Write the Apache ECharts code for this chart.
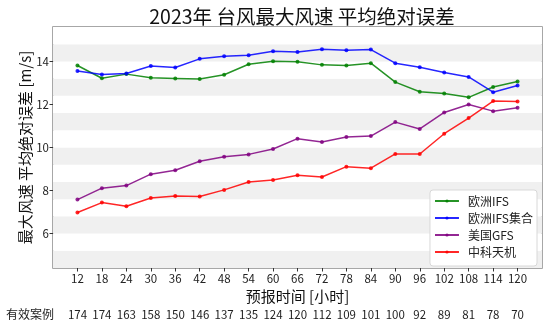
<!DOCTYPE html>
<html>
<head>
<meta charset="utf-8">
<script src="https://cdn.jsdelivr.net/npm/echarts@6/dist/echarts.min.js"></script>
<style>
  html, body { margin: 0; padding: 0; background: #fff; }
  #chart { width: 550px; height: 330px; }
</style>
</head>
<body>
<div id="chart"></div>
<script>
// Forecast lead times (hours)
const leadHours = [12, 18, 24, 30, 36, 42, 48, 54, 60, 66, 72, 78, 84, 90, 96, 102, 108, 114, 120];
// Number of valid cases at each lead time
const caseCounts = [174, 174, 163, 158, 150, 146, 137, 135, 124, 120, 112, 109, 101, 100, 92, 89, 81, 78, 70];
// Mean absolute error of max wind speed (m/s)
const ecIFS     = [13.81, 13.22, 13.41, 13.24, 13.21, 13.18, 13.38, 13.87, 14.01, 13.98, 13.84, 13.81, 13.92, 13.04, 12.59, 12.51, 12.33, 12.81, 13.07];
const ecEns     = [13.55, 13.39, 13.44, 13.79, 13.72, 14.12, 14.24, 14.29, 14.47, 14.44, 14.57, 14.52, 14.55, 13.92, 13.73, 13.49, 13.28, 12.57, 12.88];
const usGFS     = [7.58, 8.11, 8.23, 8.76, 8.94, 9.36, 9.57, 9.68, 9.93, 10.41, 10.26, 10.49, 10.53, 11.18, 10.86, 11.63, 12.00, 11.69, 11.85];
const tianji    = [6.98, 7.44, 7.27, 7.65, 7.75, 7.72, 8.03, 8.40, 8.49, 8.71, 8.63, 9.11, 9.04, 9.70, 9.70, 10.64, 11.37, 12.16, 12.14];
const yTickValues = [6, 8, 10, 12, 14];

const FONT = '"Noto Sans CJK SC", "Noto Sans", sans-serif';

function pairs(values) {
  return leadHours.map((h, i) => [h, values[i]]);
}

function lineSeries(name, values, color) {
  return {
    name: name,
    type: 'line',
    data: pairs(values),
    xAxisIndex: 0,
    yAxisIndex: 0,
    symbol: 'circle',
    symbolSize: 4,
    itemStyle: { color: color, opacity: 0.85 },
    lineStyle: { color: color, width: 1.5, opacity: 0.85 },
    emphasis: { disabled: true },
    animation: false
  };
}

const chart = echarts.init(document.getElementById('chart'), null, { renderer: 'canvas' });

chart.setOption({
  animation: false,
  backgroundColor: '#fff',
  textStyle: { fontFamily: FONT },
  title: {
    text: '2023年 台风最大风速 平均绝对误差',
    left: 297,
    top: 2,
    textAlign: 'center',
    textStyle: { fontFamily: FONT, fontSize: 19.5, fontWeight: 'normal', color: '#111' }
  },
  grid: {
    left: 53, right: 8, top: 27, bottom: 62,
    show: true,
    borderColor: '#8a8a8a',
    borderWidth: 1.5,
    backgroundColor: 'transparent'
  },
  legend: {
    orient: 'vertical',
    right: 13,
    bottom: 64,
    itemWidth: 24,
    itemHeight: 4,
    itemGap: 5,
    padding: [5, 4, 8, 4],
    backgroundColor: '#fff',
    borderColor: '#d8d8d8',
    borderWidth: 1,
    borderRadius: 3,
    textStyle: { fontFamily: FONT, fontSize: 12, color: '#222', padding: [0, 0, 0, 4] },
    data: ['欧洲IFS', '欧洲IFS集合', '美国GFS', '中科天机']
  },
  xAxis: [
    {
      type: 'value',
      min: 6, max: 126, interval: 6,
      name: '预报时间 [小时]',
      nameLocation: 'middle',
      nameGap: 21,
      nameMoveOverlap: false,
      nameTextStyle: { fontFamily: FONT, fontSize: 15, color: '#111' },
      axisLine: { show: false },
      axisTick: { show: true, customValues: leadHours, length: 3.5, lineStyle: { color: '#333', width: 1 } },
      axisLabel: { customValues: leadHours, margin: 5, fontSize: 11.5, color: '#222', fontFamily: FONT },
      splitLine: { show: false }
    },
    {
      type: 'value',
      position: 'bottom',
      offset: 36,
      min: 6, max: 126, interval: 6,
      axisLine: { show: false },
      axisTick: { show: false },
      axisLabel: {
        customValues: leadHours,
        margin: 5,
        fontSize: 11.5,
        color: '#222',
        fontFamily: FONT,
        formatter: function (v) {
          const i = leadHours.indexOf(v);
          return i >= 0 ? String(caseCounts[i]) : '';
        }
      },
      splitLine: { show: false }
    }
  ],
  yAxis: [
    {
      type: 'value',
      min: 4.4, max: 15.6,
      name: '最大风速 平均绝对误差 [m/s]',
      nameLocation: 'middle',
      nameGap: 20,
      nameMoveOverlap: false,
      nameTextStyle: { fontFamily: FONT, fontSize: 15, color: '#111' },
      axisLine: { show: false },
      axisTick: { show: true, customValues: yTickValues, length: 3.5, lineStyle: { color: '#333', width: 1 } },
      axisLabel: { customValues: yTickValues, margin: 4, fontSize: 11.5, color: '#222', fontFamily: FONT },
      splitLine: { show: false },
      splitArea: { show: false }
    },
    {
      // background bands every 0.8 m/s
      type: 'value',
      position: 'left',
      min: 4.4, max: 15.6, interval: 0.8,
      axisLine: { show: false },
      axisTick: { show: false },
      axisLabel: { show: false },
      splitLine: { show: false },
      splitArea: { show: true, areaStyle: { color: ['#f0f0f0', '#ffffff'] } }
    }
  ],
  graphic: [
    {
      type: 'text',
      left: 6,
      top: 308,
      style: { text: '有效案例', fontFamily: FONT, fontSize: 12, fill: '#222' }
    }
  ],
  series: [
    lineSeries('欧洲IFS', ecIFS, '#008000'),
    lineSeries('欧洲IFS集合', ecEns, '#0000ff'),
    lineSeries('美国GFS', usGFS, '#800080'),
    lineSeries('中科天机', tianji, '#ff0000')
  ]
});
</script>
</body>
</html>
